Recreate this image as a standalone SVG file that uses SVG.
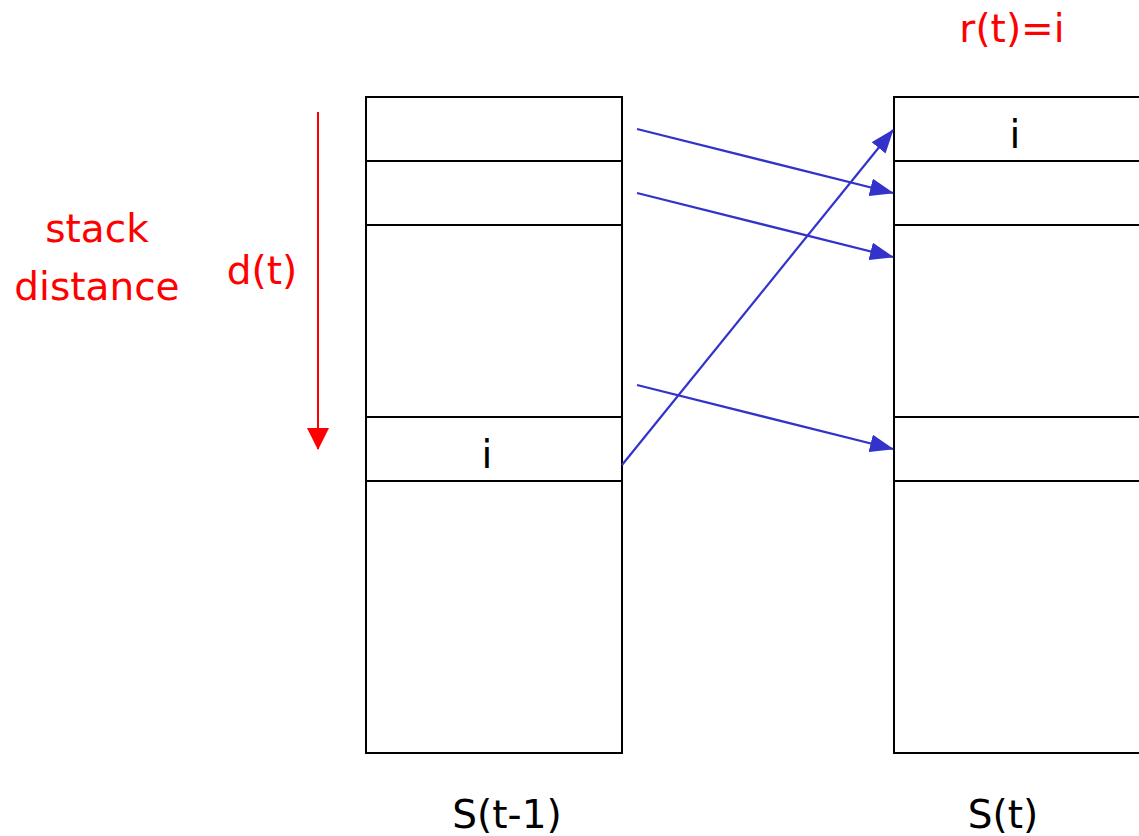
<svg xmlns="http://www.w3.org/2000/svg" width="1139" height="836" viewBox="0 0 1139 836">
<style>
.box{fill:#fff;stroke:#000;stroke-width:2}
.div{stroke:#000;stroke-width:2}
.conn{stroke:#3333cc;stroke-width:2.2;fill:none;marker-end:url(#ab)}
.red{font-family:"DejaVu Sans",sans-serif;font-size:39px;fill:#ff0000;text-anchor:middle}
.blk{font-family:"DejaVu Sans",sans-serif;font-size:39px;fill:#000;text-anchor:middle}
</style>
<defs>
<marker id="ab" viewBox="0 0 24 18" refX="23" refY="9" markerWidth="24" markerHeight="18" markerUnits="userSpaceOnUse" orient="auto">
<path d="M0,0 L24,9 L0,18 Z" fill="#3333cc"/>
</marker>
<marker id="ar" viewBox="0 0 22 22" refX="21" refY="11" markerWidth="22" markerHeight="22" markerUnits="userSpaceOnUse" orient="auto">
<path d="M0,0 L22,11 L0,22 Z" fill="#ff0000"/>
</marker>
</defs>
<rect width="1139" height="836" fill="#fff"/>
<g id="stack-prev">
<rect class="box" x="366" y="97" width="256" height="656"/>
<line class="div" x1="366" y1="161" x2="622" y2="161"/>
<line class="div" x1="366" y1="225" x2="622" y2="225"/>
<line class="div" x1="366" y1="417" x2="622" y2="417"/>
<line class="div" x1="366" y1="481" x2="622" y2="481"/>
<text class="blk" x="487" y="468">i</text>
<text class="blk" x="507" y="828">S(t-1)</text>
</g>
<g id="stack-next">
<rect class="box" x="894" y="97" width="260" height="656"/>
<line class="div" x1="894" y1="161" x2="1139" y2="161"/>
<line class="div" x1="894" y1="225" x2="1139" y2="225"/>
<line class="div" x1="894" y1="417" x2="1139" y2="417"/>
<line class="div" x1="894" y1="481" x2="1139" y2="481"/>
<text class="blk" x="1015" y="148">i</text>
<text class="blk" x="1003" y="828">S(t)</text>
</g>
<g id="labels">
<text class="red" x="97" y="242">stack</text>
<text class="red" x="97" y="300">distance</text>
<text class="red" x="262" y="284">d(t)</text>
<text class="red" x="1012" y="42">r(t)=i</text>
</g>
<g id="connectors">
<line x1="318" y1="112" x2="318" y2="449" stroke="#ff0000" stroke-width="2" marker-end="url(#ar)"/>
<line class="conn" x1="637" y1="129" x2="893" y2="193"/>
<line class="conn" x1="637" y1="193" x2="893" y2="257"/>
<line class="conn" x1="637" y1="385" x2="893" y2="449"/>
<line class="conn" x1="622" y1="465" x2="893" y2="130"/>
</g>
</svg>
